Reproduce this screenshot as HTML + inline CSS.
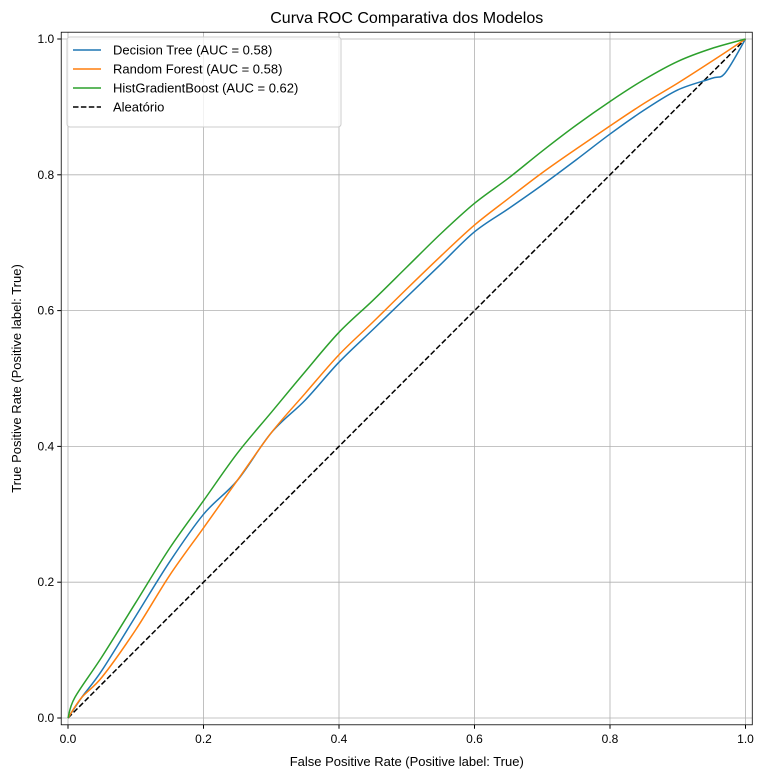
<!DOCTYPE html>
<html><head><meta charset="utf-8"><style>
body{margin:0;background:#fff;font-family:"Liberation Sans","DejaVu Sans",sans-serif}
</style></head><body>
<svg id="chart" width="768" height="778" xmlns="http://www.w3.org/2000/svg"></svg>
<script>
const fprDT=[0,0.02,0.05,0.1,0.15,0.2,0.25,0.3,0.35,0.4,0.45,0.5,0.55,0.6,0.65,0.7,0.75,0.8,0.85,0.9,0.95,0.97,1];
const tprDT=[0,0.03,0.07,0.15,0.23,0.3,0.35,0.42,0.468,0.524,0.572,0.62,0.668,0.716,0.75,0.785,0.822,0.86,0.895,0.925,0.942,0.95,1];
const fprRF=[0,0.02,0.05,0.1,0.15,0.2,0.25,0.3,0.35,0.4,0.45,0.5,0.55,0.6,0.65,0.7,0.75,0.8,0.85,0.9,0.95,1];
const tprRF=[0,0.03,0.06,0.13,0.21,0.28,0.35,0.42,0.478,0.535,0.583,0.632,0.68,0.726,0.765,0.803,0.838,0.872,0.905,0.935,0.967,1];
const fprHG=[0,0.01,0.05,0.1,0.15,0.2,0.25,0.3,0.35,0.4,0.45,0.5,0.55,0.6,0.65,0.7,0.75,0.8,0.85,0.9,0.95,1];
const tprHG=[0,0.03,0.09,0.17,0.25,0.32,0.39,0.45,0.51,0.568,0.615,0.664,0.713,0.758,0.795,0.835,0.873,0.908,0.94,0.967,0.986,1];
const ticks=[0,0.2,0.4,0.6,0.8,1.0];
const tickLabels=["0.0","0.2","0.4","0.6","0.8","1.0"];
const legendLabels=["Decision Tree (AUC = 0.58)","Random Forest (AUC = 0.58)","HistGradientBoost (AUC = 0.62)","Aleatório"];

const svg=document.getElementById('chart');
const NS="http://www.w3.org/2000/svg";
const X=v=>68+v*677.5, Y=v=>718-v*679;
function mk(t,a,txt){const e=document.createElementNS(NS,t);for(const k in a)e.setAttribute(k,a[k]);if(txt!==undefined)e.textContent=txt;svg.appendChild(e);return e;}
const L=X(-0.01),R=X(1.01),T=Y(1.01),B=Y(-0.01);
ticks.forEach((t,i)=>{
 let g=mk('line',{x1:X(t),x2:X(t),y1:T,y2:B,stroke:'#b0b0b0','stroke-width':0.8});
 
 
 g=mk('line',{x1:L,x2:R,y1:Y(t),y2:Y(t),stroke:'#b0b0b0','stroke-width':0.8});
 
 
 let tk=mk('line',{x1:X(t),x2:X(t),y1:B,y2:B+4,stroke:'#000'});
 
 
 tk=mk('line',{x1:L-4,x2:L,y1:Y(t),y2:Y(t),stroke:'#000'});
 
 
 let tl=mk('text',{x:X(t),y:B+18,'text-anchor':'middle','font-size':12},tickLabels[i]);
 
 
 tl=mk('text',{x:L-7,y:Y(t)+4,'text-anchor':'end','font-size':12},tickLabels[i]);
 
 
});
let d=mk('line',{x1:X(0),y1:Y(0),x2:X(1),y2:Y(1),stroke:'#000','stroke-width':1.5,'stroke-dasharray':'5.5,2.4'});


function curve(xs,ys,c,name){
 const P=xs.map((x,i)=>[X(x),Y(ys[i])]);
 let s='M'+P[0][0]+','+P[0][1];
 for(let i=0;i<P.length-1;i++){
  const p0=P[Math.max(0,i-1)],p1=P[i],p2=P[i+1],p3=P[Math.min(P.length-1,i+2)];
  const c1=[p1[0]+(p2[0]-p0[0])/6,p1[1]+(p2[1]-p0[1])/6];
  const c2=[p2[0]-(p3[0]-p1[0])/6,p2[1]-(p3[1]-p1[1])/6];
  s+=' C'+c1+' '+c2+' '+p2;
 }
 const p=mk('path',{d:s,fill:'none',stroke:c,'stroke-width':1.5,'stroke-linejoin':'round'});
 
 
}
curve(fprDT,tprDT,'#1f77b4','decision-tree-curve');
curve(fprRF,tprRF,'#ff7f0e','random-forest-curve');
curve(fprHG,tprHG,'#2ca02c','histgradientboost-curve');
let f=mk('rect',{x:L,y:T,width:R-L,height:B-T,fill:'none',stroke:'#000','stroke-width':0.8});


let lb=mk('rect',{x:67,y:37,width:274,height:90,fill:'#fff','fill-opacity':0.8,stroke:'#ccc',rx:3});


const cols=['#1f77b4','#ff7f0e','#2ca02c','#000'];
legendLabels.forEach((s,i)=>{
 const y=50+i*19;
 const a={x1:73,x2:101,y1:y,y2:y,stroke:cols[i],'stroke-width':1.5};
 if(i==3)a['stroke-dasharray']='5.5,2.4';
 let ln=mk('line',a);
 
 
 let tx=mk('text',{x:113,y:y+4.5,'font-size':13},s);
 
 
});
let t=mk('text',{x:(L+R)/2,y:23,'text-anchor':'middle','font-size':16},'Curva ROC Comparativa dos Modelos');


t=mk('text',{x:(L+R)/2,y:766,'text-anchor':'middle','font-size':13},'False Positive Rate (Positive label: True)');


t=mk('text',{x:21,y:(T+B)/2,'text-anchor':'middle','font-size':13,transform:'rotate(-90 21 '+((T+B)/2)+')'},'True Positive Rate (Positive label: True)');


</script>
</body></html>
